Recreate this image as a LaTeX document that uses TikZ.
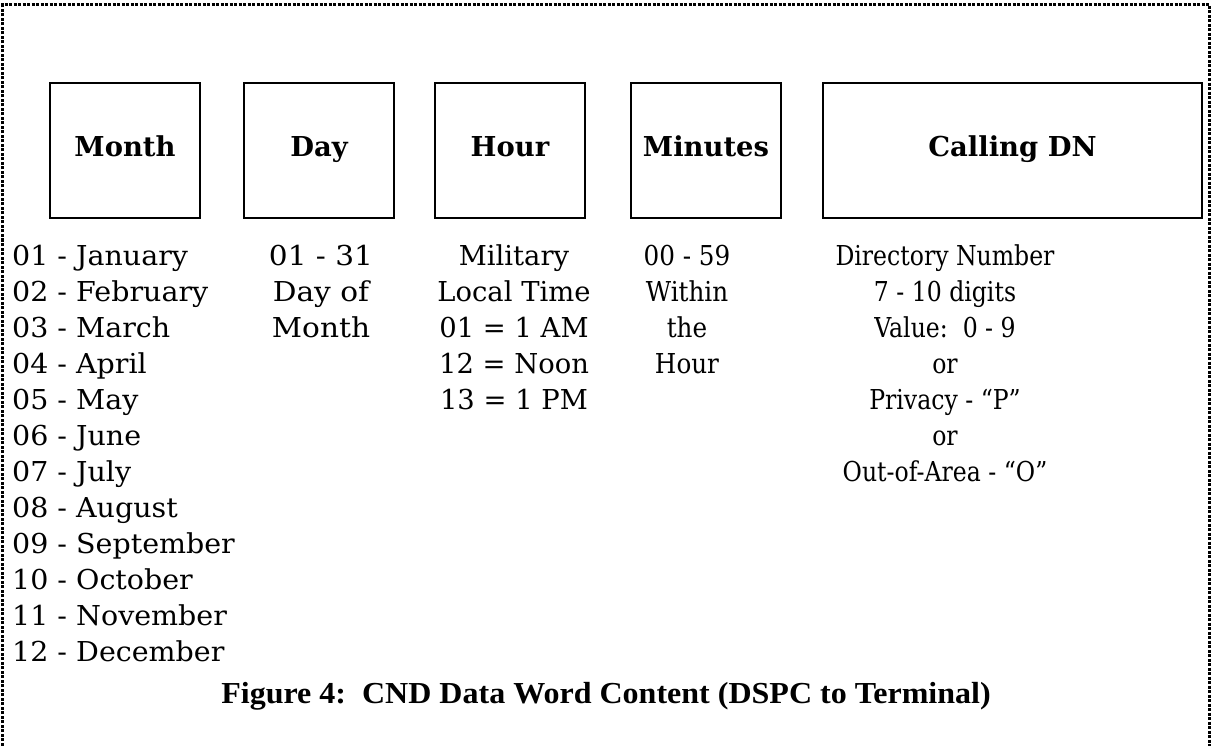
\documentclass[tikz,border=0pt]{standalone}
\usepackage{fontspec}
\setmainfont{DejaVu Serif}
\newfontfamily\monfont{DejaVu Serif}[FakeStretch=1.04]
\newfontfamily\dayfont{DejaVu Serif}[FakeStretch=1.08]
\newfontfamily\minfont{DejaVu Serif}[FakeStretch=0.9]
\newfontfamily\dnfont{DejaVu Serif}[FakeStretch=0.86]
\newfontfamily\capfont{Liberation Serif}[FakeStretch=1.05]
\tikzset{
        outerframe/.style={line width=3pt, dash pattern=on 3pt off 1.5pt},
        fieldbox/.style={draw=black, line width=2.5pt, minimum width=150pt, minimum height=135pt, inner sep=0pt,
          text height=20pt, text depth=7pt, font=\fontsize{27.4}{36}\selectfont\bfseries},
        valtext/.style={inner sep=0pt, anchor=base, font=#1\fontsize{27.4}{36}\selectfont},
        valtext/.default={},
        figcap/.style={inner sep=0pt, anchor=base, font=\capfont\fontsize{30.5}{36}\selectfont\bfseries}
          }

\begin{document}
\begin{tikzpicture}[x=1pt, y=-1pt]
            \useasboundingbox (0,0) rectangle (1212,746);
            \draw[outerframe] (2.5,750) |- (1209.5,5) -- (1209.5,750);
            % field boxes
            \node[fieldbox] (month) at (125,150.5) {Month};
            \node[fieldbox] (day) at (319,150.5) {Day};
            \node[fieldbox] (hour) at (510,150.5) {Hour};
            \node[fieldbox] (minutes) at (706,150.5) {Minutes};
            \node[fieldbox, minimum width=379pt] (calling) at (1012.5,150.5) {Calling DN};
            % values under each box
            \foreach \t [count=\i] in {01 - January, 02 - February, 03 - March, 04 - April, 05 - May, 06 - June,
                                       07 - July, 08 - August, 09 - September, 10 - October, 11 - November, 12 - December}
              \node[valtext=\monfont, anchor=base west] (mon\i) at (12,229+36*\i) {\t};
            \foreach \t [count=\i] in {01 - 31, Day of, Month}
              \node[valtext=\dayfont] (day\i) at (321,229+36*\i) {\t};
            \foreach \t [count=\i] in {Military, Local Time, 01 = 1 AM, 12 = Noon, 13 = 1 PM}
              \node[valtext] (hr\i) at (514,229+36*\i) {\t};
            \foreach \t [count=\i] in {00 - 59, Within, the, Hour}
              \node[valtext=\minfont] (min\i) at (687,229+36*\i) {\t};
            \foreach \t [count=\i] in {Directory Number, 7 - 10 digits, {Value:\ \ 0 - 9}, or, Privacy - “P”, or, Out-of-Area - “O”}
              \node[valtext=\dnfont] (dn\i) at (945,229+36*\i) {\t};
            % caption
            \node[figcap] (caption) at (606,703) {Figure 4:\ \ CND Data Word Content (DSPC to Terminal)};
          \end{tikzpicture}
\end{document}
